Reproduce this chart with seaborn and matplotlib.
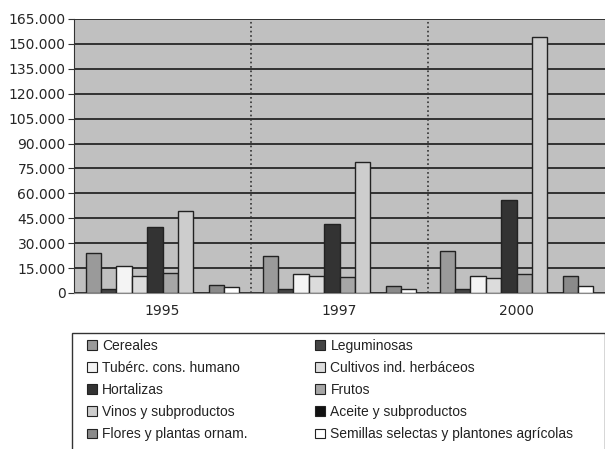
import numpy as np
import pandas as pd
import seaborn as sns
import matplotlib.pyplot as plt
from matplotlib.patches import Rectangle
from matplotlib.ticker import FuncFormatter, MultipleLocator

years = ['1995', '1997', '2000']
series = ['Cereales', 'Leguminosas', 'Tubérc. cons. humano', 'Cultivos ind. herbáceos',
          'Hortalizas', 'Frutos', 'Vinos y subproductos', 'Aceite y subproductos',
          'Flores y plantas ornam.', 'Semillas selectas y plantones agrícolas']
cereales = [24300, 22300, 25300]
leguminosas = [2600, 2500, 2700]
tuberc = [16000, 11700, 10500]
cultivos = [10500, 10200, 9300]
hortalizas = [39800, 41400, 56300]
frutos = [12300, 9700, 11300]
vinos = [49200, 79000, 154300]
aceite = [0, 0, 0]
flores = [4800, 4200, 10000]
semillas = [3800, 2600, 4000]

colors = ['#9a9a9a', '#444444', '#f4f4f4', '#dcdcdc', '#333333',
          '#a6a6a6', '#cdcdcd', '#111111', '#8a8a8a', '#ffffff']

values = [cereales, leguminosas, tuberc, cultivos, hortalizas,
          frutos, vinos, aceite, flores, semillas]
rows = []
for name, vals in zip(series, values):
    for y, v in zip(years, vals):
        rows.append({'year': y, 'serie': name, 'valor': v})
df = pd.DataFrame(rows)

sns.set_style('white')
plt.rcParams['font.family'] = ['DejaVu Sans']

fig = plt.figure(figsize=(6.05, 4.49), dpi=100)
ax = fig.add_axes([74 / 605, 1 - 293 / 449, 531 / 605, 274 / 449])
ax.set_facecolor('#c0c0c0')

sns.barplot(data=df, x='year', y='valor', hue='serie', hue_order=series,
            palette=colors, width=0.87, edgecolor='#222222', linewidth=1.0,
            ax=ax, legend=False, zorder=3)

ax.set_ylim(0, 165000)
ax.set_xlim(-0.5, 2.5)
ax.yaxis.set_major_locator(MultipleLocator(15000))
ax.yaxis.set_major_formatter(FuncFormatter(lambda v, p: f"{int(v):,}".replace(',', '.')))
ax.grid(axis='y', color='#1a1a1a', linewidth=1.2, zorder=1)
ax.set_axisbelow(True)
for xv in [0.5, 1.5]:
    ax.axvline(xv, color='#333333', linestyle=':', linewidth=1.2, zorder=1)

ax.set_xlabel('')
ax.set_ylabel('')
ax.tick_params(axis='y', labelsize=10, length=4, left=True, color='#333333', pad=2)
ax.tick_params(axis='x', labelsize=10, length=0, pad=8)
for s in ['top', 'right']:
    ax.spines[s].set_visible(False)
ax.spines['left'].set_color('#333333')
ax.spines['bottom'].set_color('#888888')

# legend box, cut off at the bottom like the original
fig.patches.append(Rectangle((72 / 605, -0.05), 533 / 605, 0.05 + 116 / 449,
                             transform=fig.transFigure, facecolor='white',
                             edgecolor='#333333', linewidth=1.0))

order = [0, 2, 4, 6, 8, 1, 3, 5, 7, 9]
handles = [Rectangle((0, 0), 1, 1, facecolor=colors[i], edgecolor='#222222', linewidth=0.8)
           for i in order]
labels = [series[i] for i in order]
leg = fig.legend(handles, labels, ncol=2, loc='upper left',
                 bbox_to_anchor=(87 / 605, 1 - 339 / 449),
                 frameon=False,
                 prop={'family': 'Liberation Sans', 'size': 10},
                 handlelength=0.7, handleheight=0.7, handletextpad=0.4,
                 labelspacing=0.58, borderpad=0, columnspacing=4.85,
                 borderaxespad=0)
for t in leg.get_texts():
    t.set_color('#222222')

fig.savefig('out.png', dpi=100)
